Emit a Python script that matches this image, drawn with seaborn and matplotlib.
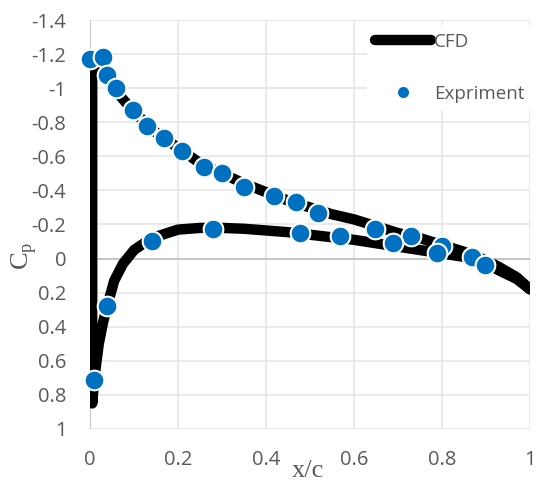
import numpy as np
import pandas as pd
import matplotlib
matplotlib.use("Agg")
import matplotlib.pyplot as plt
import seaborn as sns
from matplotlib.lines import Line2D

# CFD pressure coefficient: upper surface TE -> LE, then lower surface LE -> TE
cfd_upper_x = [1.0, 0.97, 0.93, 0.9, 0.85, 0.8, 0.75, 0.7, 0.65, 0.6, 0.55, 0.5,
               0.45, 0.4, 0.35, 0.3, 0.25, 0.2, 0.15, 0.1, 0.07, 0.05, 0.03,
               0.015, 0.007, 0.005]
cfd_upper_cp = [0.18, 0.11, 0.05, 0.01, -0.04, -0.08, -0.12, -0.15, -0.19, -0.23,
                -0.26, -0.30, -0.34, -0.39, -0.44, -0.50, -0.56, -0.65, -0.74,
                -0.86, -0.95, -1.02, -1.09, -1.12, -1.11, -1.05]
cfd_lower_x = [0.005, 0.01, 0.02, 0.03, 0.04, 0.055, 0.075, 0.1, 0.14, 0.2, 0.25,
               0.3, 0.35, 0.4, 0.45, 0.5, 0.55, 0.6, 0.65, 0.7, 0.75, 0.8, 0.85,
               0.9, 0.93, 0.97, 1.0]
cfd_lower_cp = [0.85, 0.70, 0.50, 0.37, 0.27, 0.13, 0.03, -0.05, -0.12, -0.17,
                -0.18, -0.18, -0.175, -0.165, -0.155, -0.14, -0.125, -0.11, -0.09,
                -0.07, -0.05, -0.03, -0.01, 0.03, 0.07, 0.12, 0.18]

# Experiment points
exp_x = [0.0, 0.03, 0.039, 0.059, 0.098, 0.13, 0.168, 0.209, 0.259, 0.30, 0.35,
         0.418, 0.468, 0.518, 0.648, 0.729, 0.80, 0.868,
         0.01, 0.039, 0.14, 0.28, 0.477, 0.568, 0.689, 0.789, 0.898]
exp_cp = [-1.17, -1.18, -1.08, -1.0, -0.87, -0.78, -0.71, -0.63, -0.54, -0.50,
          -0.42, -0.37, -0.33, -0.27, -0.175, -0.13, -0.076, -0.012,
          0.71, 0.28, -0.105, -0.175, -0.15, -0.13, -0.09, -0.03, 0.04]

x_ticks = [0, 0.2, 0.4, 0.6, 0.8, 1]
x_tick_labels = ["0", "0.2", "0.4", "0.6", "0.8", "1"]
y_ticks = [-1.4, -1.2, -1.0, -0.8, -0.6, -0.4, -0.2, 0, 0.2, 0.4, 0.6, 0.8, 1.0]
y_tick_labels = ["-1.4", "-1.2", "-1", "-0.8", "-0.6", "-0.4", "-0.2", "0",
                 "0.2", "0.4", "0.6", "0.8", "1"]

cfd = pd.DataFrame({"x": cfd_upper_x + cfd_lower_x,
                    "cp": cfd_upper_cp + cfd_lower_cp})
exp = pd.DataFrame({"x": exp_x, "cp": exp_cp})

sns.set_theme(style="white")
plt.rcParams["font.family"] = ["Open Sans", "DejaVu Sans"]

fig = plt.figure(figsize=(5.4, 4.84), dpi=100)
ax = fig.add_axes([90 / 540, 1 - 429 / 484, 440 / 540, 409 / 484])

grid_col = "#e6e6e6"
for v in x_ticks[1:]:
    ax.axvline(v, color=grid_col, lw=1.2, zorder=0)
for v in y_ticks:
    if v != 0:
        ax.axhline(v, color=grid_col, lw=1.2, zorder=0)
ax.axhline(0, color="#bfbfbf", lw=1.3, zorder=0.5)
ax.axvline(0, color="#bfbfbf", lw=1.3, zorder=0.5)

sns.lineplot(data=cfd, x="x", y="cp", sort=False, estimator=None, color="black",
             lw=7.5, ax=ax, zorder=2, solid_capstyle="round",
             solid_joinstyle="round")
sns.scatterplot(data=exp, x="x", y="cp", color="#0070c0", s=200,
                edgecolor="white", linewidth=1.5, ax=ax, zorder=3, clip_on=False)

ax.set_xlim(0, 1)
ax.set_ylim(1, -1.4)
ax.set_xticks(x_ticks)
ax.set_xticklabels(x_tick_labels)
ax.set_yticks(y_ticks)
ax.set_yticklabels(y_tick_labels)
ax.tick_params(axis="x", length=0, pad=15, labelsize=14.5, labelcolor="#595959")
ax.tick_params(axis="y", length=0, pad=17, labelsize=14.5, labelcolor="#595959")
for s in ax.spines.values():
    s.set_visible(False)

ax.set_xlabel("")
ax.set_ylabel("")
fig.text(308 / 540, 1 - 471 / 484, "x/c", family="Liberation Serif", fontsize=19,
         color="#595959", ha="center", va="center")
fig.text(24 / 540, 1 - 256 / 484, r"C$_\mathregular{p}$", family="Liberation Serif",
         fontsize=19, color="#595959", ha="center", va="center", rotation=90)

handles = [Line2D([0], [0], color="black", lw=7.5, solid_capstyle="round"),
           Line2D([0], [0], marker="o", color="#0070c0", lw=0, markersize=9,
                  markeredgecolor="white")]
leg = fig.legend(handles, ["CFD", "Expriment"], loc="upper left",
                 bbox_to_anchor=(358 / 540, 1 - 16 / 484), frameon=True,
                 facecolor="white", edgecolor="none", framealpha=1,
                 fontsize=13.5, handlelength=3.0, handletextpad=0.15,
                 labelspacing=1.8, borderpad=0.4)
for t in leg.get_texts():
    t.set_color("#595959")

fig.savefig("out.png", dpi=100)
